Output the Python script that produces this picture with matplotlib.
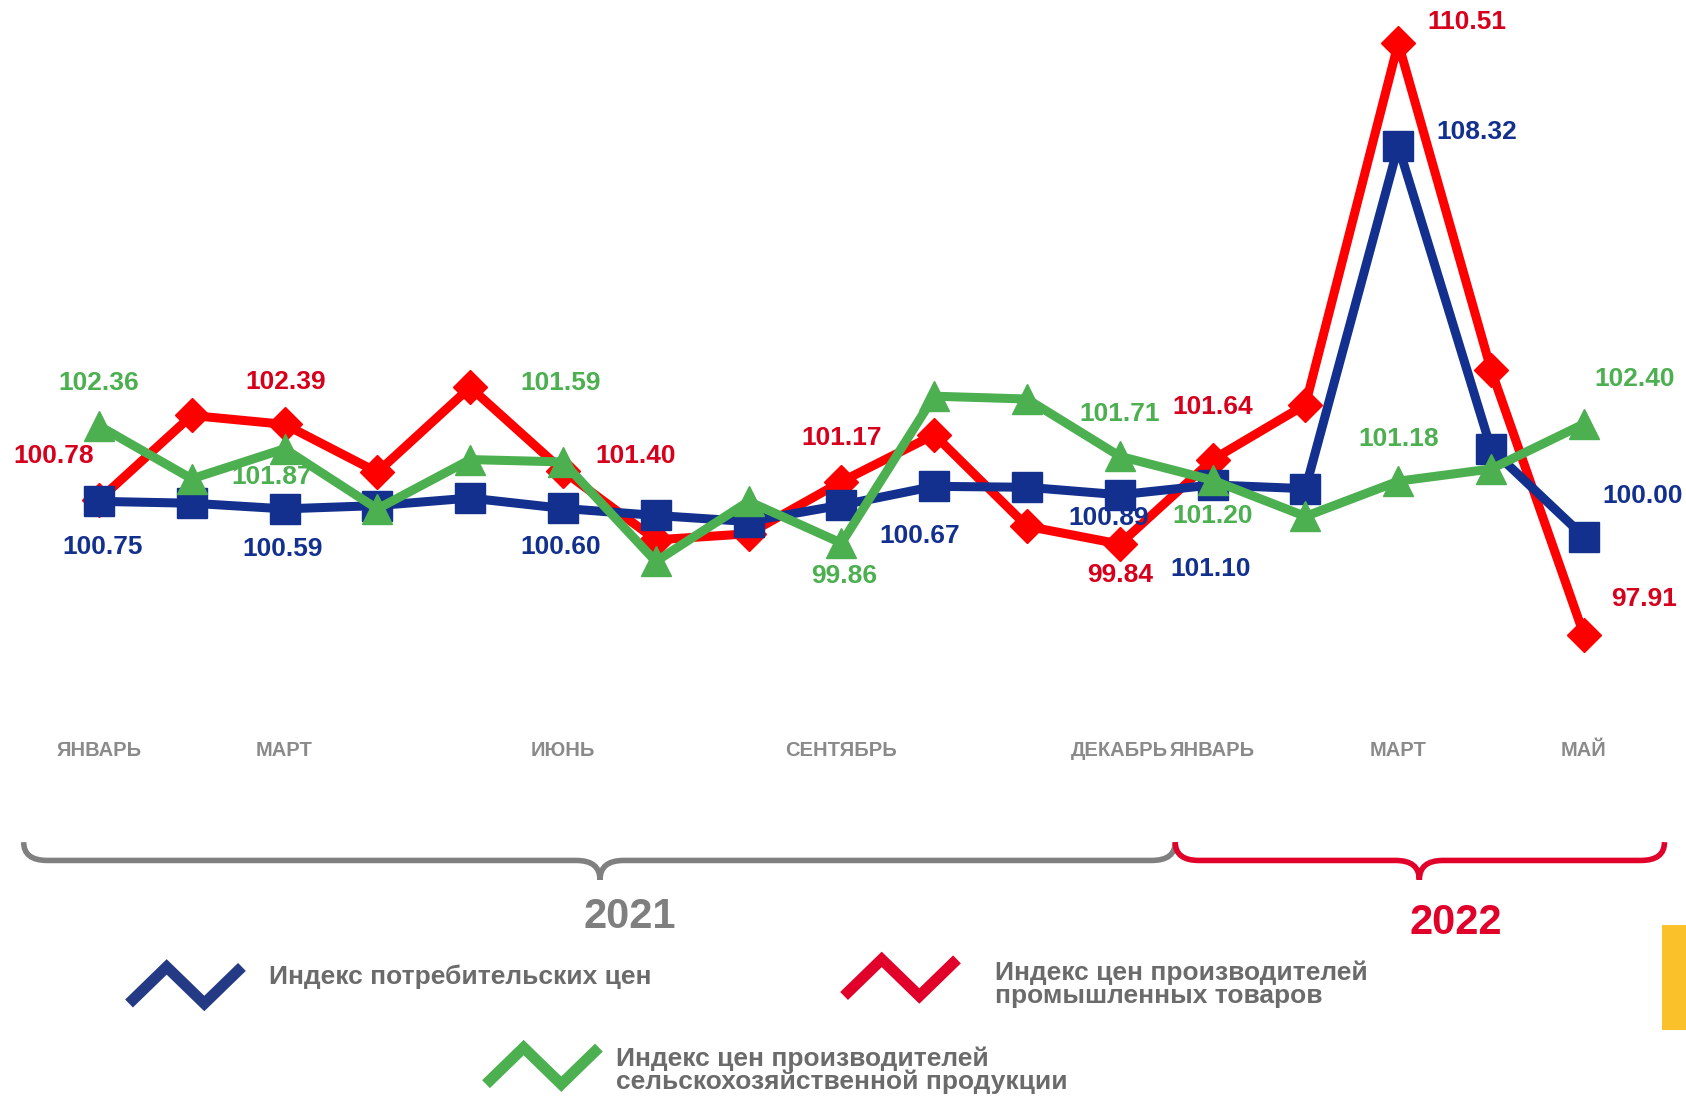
"""
Price indices chart: CPI, industrial PPI and agricultural PPI, Jan 2021 - May 2022
"""

import matplotlib
matplotlib.use('Agg')
import matplotlib.pyplot as plt
from matplotlib.path import Path
from matplotlib.patches import PathPatch, Rectangle

plt.rcParams['font.family'] = ['Liberation Sans', 'DejaVu Sans']
plt.rcParams['font.weight'] = 'bold'

# Data (index positions = months Jan 2021 .. May 2022)
months = list(range(17))
cpi = [100.75, 100.71, 100.59, 100.66, 100.82, 100.60, 100.45, 100.32, 100.67,
       101.07, 101.05, 100.89, 101.10, 101.02, 108.32, 101.87, 100.00]
ppi = [100.78, 102.58, 102.39, 101.37, 103.18, 101.40, 99.93, 100.06, 101.17,
       102.17, 100.22, 99.84, 101.64, 102.81, 110.51, 103.55, 97.91]
agri = [102.36, 101.23, 101.87, 100.59, 101.64, 101.59, 99.47, 100.75, 99.86,
        102.99, 102.93, 101.71, 101.20, 100.43, 101.18, 101.44, 102.40]

tick_pos = [0, 2, 5, 8, 11, 12, 14, 16]
tick_labels = ['ЯНВАРЬ', 'МАРТ', 'ИЮНЬ', 'СЕНТЯБРЬ', 'ДЕКАБРЬ', 'ЯНВАРЬ', 'МАРТ', 'МАЙ']

labelled = [0, 2, 5, 8, 11, 12, 14, 16]

legend_cpi = 'Индекс потребительских цен'
legend_ppi = 'Индекс цен производителей\nпромышленных товаров'
legend_agri = 'Индекс цен производителей\nсельскохозяйственной продукции'
years = ['2021', '2022']

# label offsets in screen pixels (x right, y down) relative to each point
off_cpi = [(3, 42), (-2, 37), (-2, 36), (73, 29), (-10, 22), (-2, 78), (73, -13), (55, -38)]
off_ppi = [(-42, -41), (1, -39), (68, -14), (0, -41), (0, 29), (0, -49), (64, -20), (56, -33)]
off_agri = [(0, -40), (-12, 26), (-2, -73), (3, 31), (0, -39), (0, 33), (0, -39), (47, -42)]

BLUE = '#13308f'
RED = '#ff0000'
GREEN = '#4caf50'
RED_TXT = '#d7001c'
GRAY = '#8a8a8a'

W, H = 1568, 1019  # reference screen space
fig = plt.figure(figsize=(16.86, 10.96), dpi=100)

ax = fig.add_axes([0, 1 - 680 / H, 1, 680 / H])
ax.set_xlim(-1.066, 17.10)
ax.set_ylim(95.85, 111.43)
for s in ax.spines.values():
    s.set_visible(False)
ax.set_yticks([])
ax.set_xticks(tick_pos)
ax.set_xticklabels(tick_labels, fontsize=14.5, color=GRAY, fontweight='bold')
ax.tick_params(axis='x', length=0, pad=7)

ax.plot(months, ppi, color=RED, lw=6.5, marker='D', markersize=17, zorder=2)
ax.plot(months, cpi, color=BLUE, lw=6.5, marker='s', markersize=21, zorder=3)
ax.plot(months, agri, color=GREEN, lw=6.5, marker='^', markersize=22, zorder=4)

px2pt = (1686 / W) * 0.72
for series, offs, col in [(cpi, off_cpi, BLUE), (ppi, off_ppi, RED_TXT), (agri, off_agri, GREEN)]:
    for i, (dx, dy) in zip(labelled, offs):
        ax.annotate(f'{series[i]:.2f}', (months[i], series[i]),
                    xytext=(dx * px2pt, -dy * px2pt), textcoords='offset points',
                    ha='center', va='center', fontsize=19, fontweight='bold',
                    color=col, zorder=5)

# decoration layer in reference pixel space
deco = fig.add_axes([0, 0, 1, 1], zorder=-1)
deco.set_xlim(0, W)
deco.set_ylim(H, 0)
deco.axis('off')


def brace(x0, x1, xc, ytop, ymid, ytip, color):
    r = 22
    verts = [(x0, ytop), (x0, ymid), (x0 + r, ymid),
             (xc - r, ymid),
             (xc, ymid), (xc, ytip),
             (xc, ymid), (xc + r, ymid),
             (x1 - r, ymid),
             (x1, ymid), (x1, ytop)]
    codes = [Path.MOVETO, Path.CURVE3, Path.CURVE3,
             Path.LINETO,
             Path.CURVE3, Path.CURVE3,
             Path.CURVE3, Path.CURVE3,
             Path.LINETO,
             Path.CURVE3, Path.CURVE3]
    deco.add_patch(PathPatch(Path(verts, codes), fill=False, edgecolor=color,
                             lw=4, capstyle='butt'))


brace(22, 1093, 558, 783, 800, 818, '#808080')
brace(1093, 1548, 1320, 783, 800, 818, '#e0002a')

deco.text(586, 853, years[0], ha='center', va='center', fontsize=30,
          color='#7f7f7f', fontweight='bold')
deco.text(1354, 858, years[1], ha='center', va='center', fontsize=30,
          color='#e0002a', fontweight='bold')

# legend with zigzag icons
for x0, y0, col in [(120, 933, '#253a85'), (785, 926, '#e0002a'), (452, 1008, GREEN)]:
    deco.plot([x0, x0 + 35, x0 + 70, x0 + 105], [y0, y0 - 34, y0, y0 - 34],
              color=col, lw=8, solid_joinstyle='miter', solid_capstyle='butt')

leg_col = '#6b6b6b'
deco.text(250, 908, legend_cpi, ha='left', va='center', fontsize=19,
          color=leg_col, fontweight='bold')
deco.text(925, 915, legend_ppi, ha='left', va='center', fontsize=19,
          color=leg_col, fontweight='bold', linespacing=0.95)
deco.text(573, 995, legend_agri, ha='left', va='center', fontsize=19,
          color=leg_col, fontweight='bold', linespacing=0.95)

deco.add_patch(Rectangle((1546, 860), 30, 98, color='#fbc12b', lw=0))

fig.savefig('out.png', dpi=100)
